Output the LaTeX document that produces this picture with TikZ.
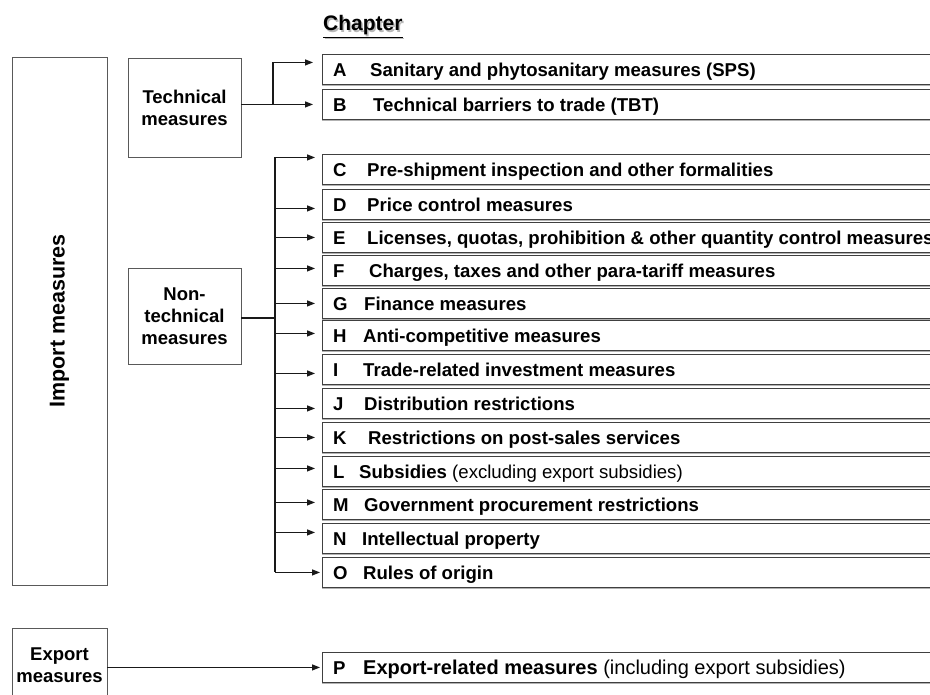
\documentclass[tikz,border=0pt]{standalone}
\usepackage{fontspec}
\setmainfont{Liberation Sans}
\usetikzlibrary{arrows.meta,shadows}
\newcommand\chrow[5]{%
  \node[cbox] (b#1) at (322,#2) {};
  \node[ltr] (l#1) at (333,0 |- b#1.west) {#4};
  \node[ltr] (t#1) at (#3,0 |- b#1.west) {#5};
}
\begin{document}
\begin{tikzpicture}[x=1pt,y=-1pt,
  cbox/.style={draw=black!75, line width=0.9pt, fill=white, minimum width=640pt, minimum height=30pt,
    anchor=north west, inner sep=0pt, general shadow={fill=gray!60, shadow yshift=-2pt}},
  lbox/.style={draw=black!65, line width=0.9pt, fill=white, inner sep=0pt, align=center,
    font=\bfseries\fontsize{18.5}{22}\selectfont},
  ltr/.style={anchor=west, inner sep=0pt, text height=13.3pt, text depth=0pt,
    font=\bfseries\fontsize{18.6}{22}\selectfont},
  conn/.style={line width=1.2pt, black!90},
  trunk/.style={line width=2pt, black!90},
  arr/.style={conn, -{Triangle[length=8pt,width=6pt]}}]
\useasboundingbox (0,0) rectangle (930,695);
\clip (0,0) rectangle (930,695);

% heading
\node[anchor=base west, inner sep=0pt, text=gray!55, font=\bfseries\fontsize{21}{24}\selectfont] (chs) at (324.5,32.5) {\underline{Chapter}};
\node[anchor=base west, inner sep=0pt, font=\bfseries\fontsize{21}{24}\selectfont] (ch) at (323,31) {\underline{Chapter}};

% left boxes
\node[lbox, rotate=90, minimum width=528pt, minimum height=95pt, font=\bfseries\fontsize{21.5}{24}\selectfont] (imp) at (59.5,321) {Import measures};
\node[lbox, minimum width=113pt, minimum height=99pt] (tech) at (184.5,107.5) {Technical\\measures};
\node[lbox, minimum width=113pt, minimum height=96pt] (ntech) at (184.5,316) {Non-\\technical\\measures};
\node[lbox, minimum width=95pt, minimum height=75pt] (exp) at (59.5,665.5) {Export\\measures};

% chapter rows
\chrow{A}{54}{370}{A}{Sanitary and phytosanitary measures (SPS)}
\chrow{B}{89}{373}{B}{Technical barriers to trade (TBT)}
\chrow{C}{154}{367}{C}{Pre-shipment inspection and other formalities}
\chrow{D}{189}{367}{D}{Price control measures}
\chrow{E}{222}{367}{E}{Licenses, quotas, prohibition \& other quantity control measures}
\chrow{F}{255}{369}{F}{Charges, taxes and other para-tariff measures}
\chrow{G}{288}{364}{G}{Finance measures}
\chrow{H}{320}{363}{H}{Anti-competitive measures}
\chrow{I}{354}{363}{I}{Trade-related investment measures}
\chrow{J}{388}{364}{J}{Distribution restrictions}
\chrow{K}{422}{368}{K}{Restrictions on post-sales services}
\chrow{L}{456}{359}{L}{Subsidies \mdseries(excluding export subsidies)}
\chrow{M}{489}{364}{M}{Government procurement restrictions}
\chrow{N}{523}{362}{N}{Intellectual property}
\chrow{O}{557}{363}{O}{Rules of origin}
\node[cbox] (bP) at (322,652) {};
\node[ltr] (lP) at (333,0 |- bP.west) {P};
\node[ltr, font=\bfseries\fontsize{20}{24}\selectfont] (tP) at (363,0 |- bP.west) {Export-related measures \mdseries(including export subsidies)};

% arrow end points
\coordinate (eA) at ([xshift=-9pt,yshift=7pt]bA.west);
\coordinate (eB) at ([xshift=-9pt]bB.west);
\coordinate (eC) at ([xshift=-7pt,yshift=12pt]bC.west);
\coordinate (eD) at ([xshift=-7pt,yshift=-4pt]bD.west);
\coordinate (eE) at ([xshift=-7pt]bE.west);
\coordinate (eF) at ([xshift=-7pt,yshift=2pt]bF.west);
\coordinate (eG) at ([xshift=-7pt]bG.west);
\coordinate (eH) at ([xshift=-7pt,yshift=2pt]bH.west);
\coordinate (eI) at ([xshift=-7pt,yshift=-4pt]bI.west);
\coordinate (eJ) at ([xshift=-7pt,yshift=-5pt]bJ.west);
\coordinate (eK) at ([xshift=-7pt]bK.west);
\coordinate (eL) at ([xshift=-7pt,yshift=3pt]bL.west);
\coordinate (eM) at ([xshift=-7pt,yshift=2pt]bM.west);
\coordinate (eN) at ([xshift=-7pt,yshift=6pt]bN.west);
\coordinate (eO) at ([xshift=-2pt]bO.west);
\coordinate (eP) at ([xshift=-2pt]bP.west);
\coordinate (tj) at (273,0);
\coordinate (tr) at (275,0);

% technical branch
\draw[conn] (tj |- eB) -- (tj |- eA);
\draw[arr] (tech.east |- eB) -- (eB);
\draw[arr] (tj |- eA) -- (eA);

% non-technical branch
\draw[conn] (ntech.east) ++(0,-2pt) -- (tr |- 0,318);
\draw[trunk] (tr |- eC) -- (tr |- eO);
\foreach \n in {C,D,E,F,G,H,I,J,K,L,M,N,O}{
  \draw[arr] (tr |- e\n) -- (e\n);
}

% export
\draw[arr] (exp.east |- eP) -- (eP);
\end{tikzpicture}
\end{document}
